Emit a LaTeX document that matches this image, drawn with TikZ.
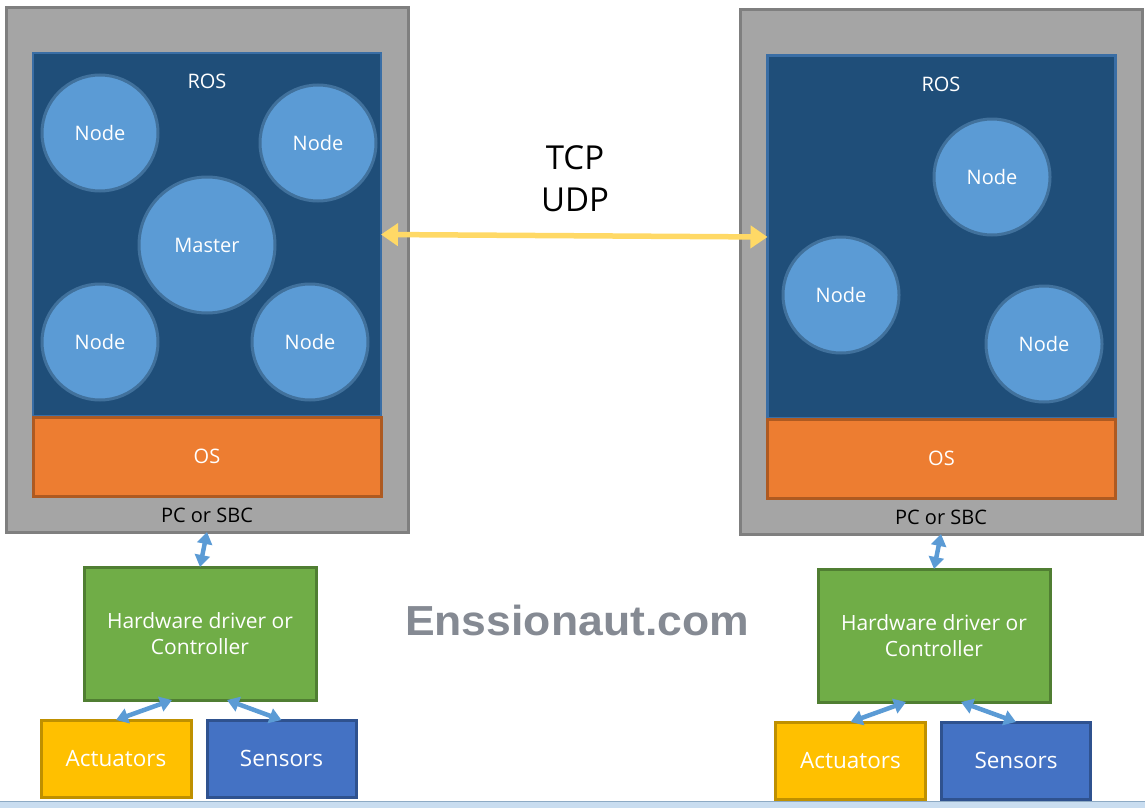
\documentclass[tikz,border=0pt]{standalone}
\usepackage{fontspec}
\setmainfont{Open Sans}
\newfontfamily\markfont{Liberation Sans}
\usetikzlibrary{arrows.meta,positioning}

\definecolor{pcgray}{HTML}{A5A5A5}
\definecolor{pcframe}{HTML}{7F7F7F}
\definecolor{rosblue}{HTML}{1F4E79}
\definecolor{rosframe}{HTML}{3A6EA5}
\definecolor{nodeblue}{HTML}{5B9BD5}
\definecolor{nodeframe}{HTML}{41719C}
\definecolor{osorange}{HTML}{ED7D31}
\definecolor{osframe}{HTML}{AE5A21}
\definecolor{hwgreen}{HTML}{70AD47}
\definecolor{hwframe}{HTML}{507E32}
\definecolor{actyellow}{HTML}{FFC000}
\definecolor{actframe}{HTML}{BF9000}
\definecolor{senblue}{HTML}{4472C4}
\definecolor{senframe}{HTML}{2F528F}
\definecolor{tcpyellow}{HTML}{FFD966}
\definecolor{markgray}{HTML}{858A93}
\definecolor{barblue}{HTML}{C9DDF0}

\begin{document}
\begin{tikzpicture}[x=1pt, y=-1pt,
				box/.style={draw, line width=3pt, inner sep=0pt, outer sep=0pt},
				pcbox/.style={box, fill=pcgray, draw=pcframe, minimum width=402, minimum height=524},
				rosbox/.style={box, line width=2.5pt, fill=rosblue, draw=rosframe, minimum width=348, minimum height=363},
				osbox/.style={box, fill=osorange, draw=osframe, text=white, minimum width=348, minimum height=79},
				rosnode/.style={circle, draw=nodeframe, line width=3pt, fill=nodeblue, text=white, inner sep=0pt, outer sep=0pt, minimum size=#1},
				rosnode/.default=116,
				hwbox/.style={box, fill=hwgreen, draw=hwframe, text=white, align=center, minimum width=232, minimum height=133, font=\fontsize{21}{26}\selectfont},
				actbox/.style={box, fill=actyellow, draw=actframe, text=white, minimum width=150, minimum height=77, font=\fontsize{22.5}{27}\selectfont},
				senbox/.style={box, fill=senblue, draw=senframe, text=white, minimum width=149, minimum height=77, font=\fontsize{22.5}{27}\selectfont},
				tcparrow/.style={tcpyellow, line width=5.5pt, {Triangle[width=22pt,length=17pt]}-{Triangle[width=22pt,length=17pt]}},
				hwarrow/.style={nodeblue, line width=4.5pt, {Triangle[width=15pt,length=12pt]}-{Triangle[width=15pt,length=12pt]}},
				font=\fontsize{20}{26}\selectfont]
				%Bildbereich
				\useasboundingbox (0,0) rectangle (1145,808);
				\fill[barblue] (0,801) rectangle (1145,808);
				\draw[nodeframe!60, line width=1pt] (0,801) -- (1145,801);
				% Rechner links
				\node[pcbox] (pcL) at (207,270) {};
				\node[rosbox] (rosL) at (207,234.5) {};
				\node[osbox] (osL) at (207,456.5) {OS};
				\node[text=white] (rosLabelL) at (207,81) {ROS};
				\node (pcLabelL) at (207,515) {PC or SBC};
				\foreach \n/\x/\y in {1/100/133, 2/318/143, 3/100/342, 4/310/342}
					\node[rosnode] (nodeL\n) at (\x,\y) {Node};
				\node[rosnode=136] (master) at (207,245) {Master};
				% Rechner rechts
				\node[pcbox] (pcR) at (941,272) {};
				\node[rosbox] (rosR) at (941.5,237) {};
				\node[osbox] (osR) at (941.5,458.5) {OS};
				\node[text=white] (rosLabelR) at (941,84) {ROS};
				\node (pcLabelR) at (941,517) {PC or SBC};
				\foreach \n/\x/\y in {1/992/177, 2/841/295, 3/1044/344}
					\node[rosnode] (nodeR\n) at (\x,\y) {Node};
				% Netzwerk
				\node[font=\fontsize{33}{42}\selectfont, align=center] (tcp) at (575,179) {TCP\\UDP};
				\draw[tcparrow] (rosL.east) -- (rosR.west);
				% Hardware
				\node[hwbox] (hwL) at (200,633.5) {Hardware driver or\\Controller};
				\node[actbox] (actL) at (116,758.5) {Actuators};
				\node[senbox] (senL) at (281.5,758.5) {Sensors};
				\node[hwbox] (hwR) at (934,635.5) {Hardware driver or\\Controller};
				\node[actbox] (actR) at (850.5,760.5) {Actuators};
				\node[senbox] (senR) at (1016,760.5) {Sensors};
				\draw[hwarrow] (pcL.south) -- (hwL.north);
				\draw[hwarrow] (actL.north) -- ([xshift=-28pt]hwL.south);
				\draw[hwarrow] ([xshift=27pt]hwL.south) -- (senL.north);
				\draw[hwarrow] (pcR.south) -- (hwR.north);
				\draw[hwarrow] (actR.north) -- ([xshift=-28pt]hwR.south);
				\draw[hwarrow] ([xshift=27pt]hwR.south) -- (senR.north);
				% Wasserzeichen
				\node[markgray, font=\markfont\bfseries\fontsize{42}{50}\selectfont, xscale=1.06] (mark) at (577,620) {Enssionaut.com};
			\end{tikzpicture}
\end{document}
